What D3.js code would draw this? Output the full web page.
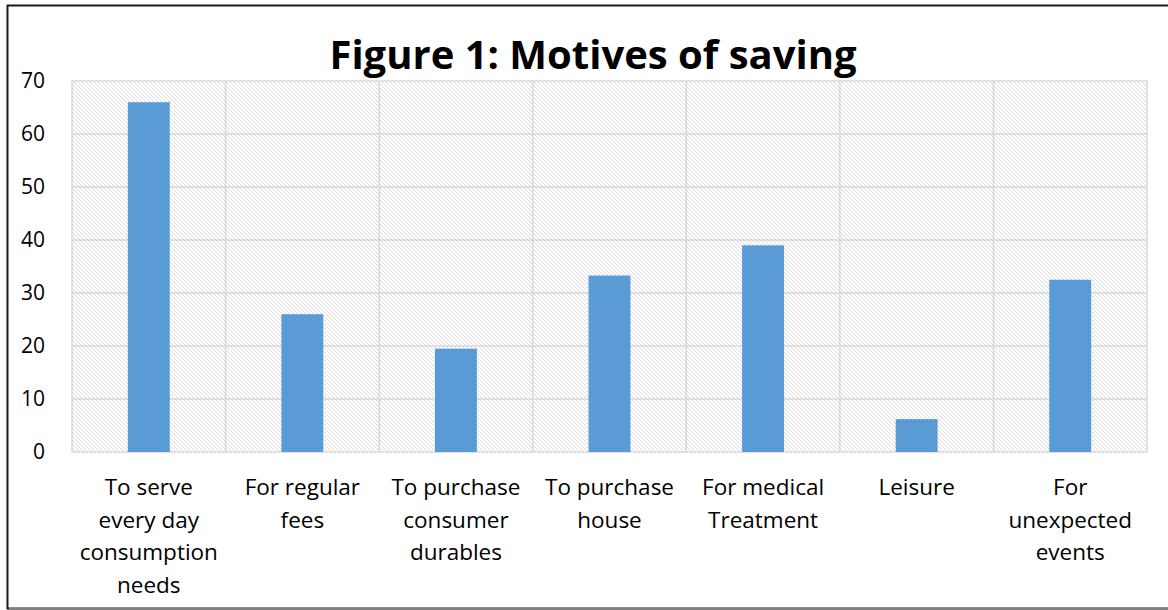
<!DOCTYPE html>
<html>
<head>
<meta charset="utf-8">
<script src="https://cdn.jsdelivr.net/npm/d3@7"></script>
<style>
  body { margin: 0; background: #fff; }
  text { font-family: 'Open Sans', sans-serif; fill: #000; }
</style>
</head>
<body>
<div id="chart"></div>
<script>
// chart data
const categories = [
  'To serve every day consumption needs',
  'For regular fees',
  'To purchase consumer durables',
  'To purchase house',
  'For medical Treatment',
  'Leisure',
  'For unexpected events'
]
const values = [66, 26, 19.5, 33.3, 39, 6.2, 32.5]
const yTicks = [0, 10, 20, 30, 40, 50, 60, 70]
const title = 'Figure 1: Motives of saving'

const width = 1168
const height = 610
const margin = { top: 81, right: 21, bottom: 158, left: 72 }

const svg = d3.select('#chart')
  .append('svg')
  .attr('width', width)
  .attr('height', height)

// hatch fill of the plot area
const pat = svg.append('defs').append('pattern')
  .attr('id', 'hatch')
  .attr('patternUnits', 'userSpaceOnUse')
  .attr('width', 4)
  .attr('height', 4)
pat.append('rect').attr('width', 4).attr('height', 4).attr('fill', '#fff')
pat.append('path')
  .attr('d', 'M-1,-1 L5,5 M-1,3 L1,5 M3,-1 L5,1')
  .attr('stroke', '#d6d6d6')
  .attr('stroke-width', 0.9)

// outer frame
svg.append('rect')
  .attr('x', 7.5).attr('y', 5.5)
  .attr('width', width + 10).attr('height', 603)
  .attr('fill', 'none')
  .attr('stroke', '#1a1a1a')
  .attr('stroke-width', 2)
svg.append('line')
  .attr('x1', 9).attr('x2', width)
  .attr('y1', 609).attr('y2', 609)
  .style('stroke', '#7f7f7f')
  .style('stroke-width', 2)

const x = d3.scaleBand()
  .domain(categories)
  .range([margin.left, width - margin.right])
  .paddingInner(0)
  .paddingOuter(0)

const y = d3.scaleLinear()
  .domain([0, 70])
  .range([height - margin.bottom, margin.top])

const plotW = width - margin.right - margin.left
const plotH = height - margin.bottom - margin.top

svg.append('rect')
  .attr('x', margin.left)
  .attr('y', margin.top)
  .attr('width', plotW)
  .attr('height', plotH)
  .attr('fill', 'url(#hatch)')

// horizontal gridlines
svg.append('g')
  .selectAll('line')
  .data(yTicks)
  .enter()
  .append('line')
  .attr('x1', margin.left)
  .attr('x2', width - margin.right)
  .attr('y1', d => y(d))
  .attr('y2', d => y(d))
  .style('stroke', '#d9d9d9')
  .style('stroke-width', 1.5)

// vertical gridlines at category boundaries
svg.append('g')
  .selectAll('line')
  .data(categories.concat(['end']))
  .enter()
  .append('line')
  .attr('x1', (d, i) => margin.left + i * x.step())
  .attr('x2', (d, i) => margin.left + i * x.step())
  .attr('y1', margin.top)
  .attr('y2', height - margin.bottom)
  .style('stroke', '#d9d9d9')
  .style('stroke-width', 1.5)

// bars
const barW = x.bandwidth() * 0.273
svg.append('g')
  .selectAll('rect')
  .data(values)
  .enter()
  .append('rect')
  .attr('x', (d, i) => x(categories[i]) + x.bandwidth() / 2 - barW / 2)
  .attr('y', d => y(d))
  .attr('width', barW)
  .attr('height', d => y(0) - y(d))
  .style('fill', '#5b9bd5')

// y axis labels
const yAxis = d3.axisLeft(y).tickValues(yTicks).tickSize(0).tickPadding(27)
svg.append('g')
  .attr('transform', `translate(${margin.left},0)`)
  .call(yAxis)
  .call(g => g.select('.domain').remove())
  .selectAll('text')
  .style('font-family', "'Open Sans', sans-serif")
  .style('font-size', '21px')
  .attr('fill', '#000')

// x axis labels, wrapped
const xAxis = d3.axisBottom(x).tickSize(0).tickPadding(0)
const gx = svg.append('g')
  .attr('transform', `translate(0,${y(0)})`)
  .call(xAxis)
gx.select('.domain').remove()
gx.selectAll('text')
  .style('font-family', "'Open Sans', sans-serif")
  .style('font-size', '22.5px')
  .attr('fill', '#000')
  .attr('dy', null)
  .attr('y', 43)
  .each(function () { wrap(d3.select(this), 150) })

function wrap (text, maxW) {
  const words = text.text().split(/\s+/)
  text.text(null)
  let line = []
  let n = 0
  let tspan = text.append('tspan').attr('x', 0).attr('y', 43)
  words.forEach(w => {
    line.push(w)
    tspan.text(line.join(' '))
    if (tspan.node().getComputedTextLength() > maxW && line.length > 1) {
      line.pop()
      tspan.text(line.join(' '))
      line = [w]
      n++
      tspan = text.append('tspan').attr('x', 0).attr('y', 43 + n * 32.5).text(w)
    }
  })
}

// title
svg.append('text')
  .attr('x', 593)
  .attr('y', 69)
  .attr('text-anchor', 'middle')
  .style('font-size', '40px')
  .style('font-weight', 'bold')
  .text(title)
</script>
</body>
</html>
